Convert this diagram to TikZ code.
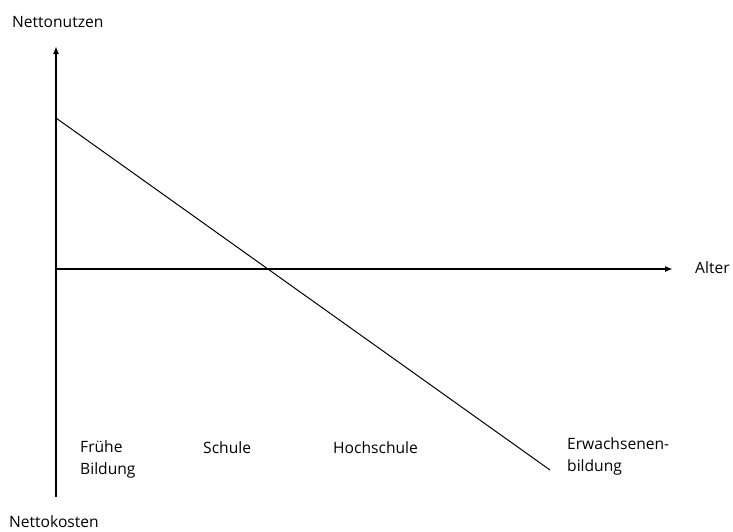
\documentclass[tikz,border=0pt]{standalone}
\usepackage{fontspec}
\setmainfont{Open Sans}
\usetikzlibrary{arrows.meta}
\begin{document}
\begin{tikzpicture}[x=1pt,y=-1pt,
  lbl/.style={inner sep=0pt,anchor=west,font=\fontsize{15.6}{22}\selectfont,align=left},
  axis/.style={line width=1.6pt,-{Latex[length=8pt,width=6pt]}}]
\useasboundingbox (0,0) rectangle (733,531);
\coordinate (o) at (56,269);
\coordinate (ybot) at (56,497);
\coordinate (ytop) at (56,46);
\coordinate (xend) at (673,269);
\coordinate (ls) at (56,118);
\coordinate (le) at (550,470);
\draw[axis] (ybot) -- (ytop);
\draw[axis] (o) -- (xend);
\draw[line width=1pt] (ls) -- (le);
\node[lbl] (nn) at (12,22) {Nettonutzen};
\node[lbl] (nk) at (9,522) {Nettokosten};
\node[lbl] (al) at (695,268) {Alter};
\node[lbl] (fb) at (80,459) {Frühe\\Bildung};
\node[lbl] (sc) at (203,448) {Schule};
\node[lbl] (hs) at (333,448) {Hochschule};
\node[lbl] (eb) at (567,456) {Erwachsenen-\\bildung};
\end{tikzpicture}
\end{document}
